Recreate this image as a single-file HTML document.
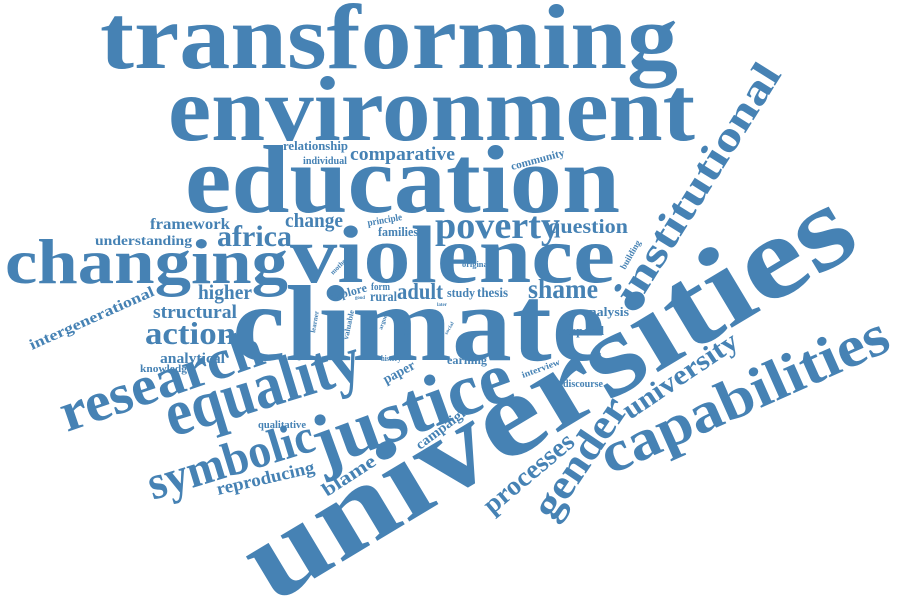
<!DOCTYPE html>
<html><head><meta charset="utf-8"><style>
html,body{margin:0;padding:0;background:#fff;width:900px;height:612px;overflow:hidden}
svg text{font-family:"Liberation Serif",serif;font-weight:bold;fill:#4682b4}
</style></head><body>
<svg width="900" height="612" viewBox="0 0 900 612">
<text x="100" y="68" font-size="92" textLength="578" lengthAdjust="spacingAndGlyphs">transforming</text>
<text x="168" y="140" font-size="92" textLength="527" lengthAdjust="spacingAndGlyphs">environment</text>
<text x="185" y="212" font-size="96" textLength="435" lengthAdjust="spacingAndGlyphs">education</text>
<text x="5" y="283" font-size="64" textLength="283" lengthAdjust="spacingAndGlyphs">changing</text>
<text x="290" y="282" font-size="82" textLength="325" lengthAdjust="spacingAndGlyphs">violence</text>
<text x="232" y="360" font-size="108" textLength="373" lengthAdjust="spacingAndGlyphs">climate</text>
<text transform="translate(272,604) rotate(-31)" font-size="118" textLength="690" lengthAdjust="spacingAndGlyphs">universities</text>
<text transform="translate(610,475) rotate(-24)" font-size="58" textLength="310" lengthAdjust="spacingAndGlyphs">capabilities</text>
<text transform="translate(322,468) rotate(-20)" font-size="74" textLength="208" lengthAdjust="spacingAndGlyphs">justice</text>
<text transform="translate(172,437) rotate(-17)" font-size="66" textLength="202" lengthAdjust="spacingAndGlyphs">equality</text>
<text transform="translate(67,432) rotate(-19)" font-size="56" textLength="212" lengthAdjust="spacingAndGlyphs">research</text>
<text transform="translate(153,500) rotate(-17)" font-size="48" textLength="172" lengthAdjust="spacingAndGlyphs">symbolic</text>
<text transform="translate(636,308) rotate(-58)" font-size="42" textLength="276" lengthAdjust="spacingAndGlyphs">institutional</text>
<text transform="translate(553,522) rotate(-56)" font-size="42" textLength="137" lengthAdjust="spacingAndGlyphs">gender</text>
<text transform="translate(630,420) rotate(-34)" font-size="28" textLength="133" lengthAdjust="spacingAndGlyphs">university</text>
<text transform="translate(492,515) rotate(-40)" font-size="27" textLength="110" lengthAdjust="spacingAndGlyphs">processes</text>
<text x="435" y="238" font-size="38" textLength="125" lengthAdjust="spacingAndGlyphs">poverty</text>
<text x="548" y="233" font-size="20" textLength="80" lengthAdjust="spacingAndGlyphs">question</text>
<text x="528" y="298" font-size="27" textLength="70" lengthAdjust="spacingAndGlyphs">shame</text>
<text x="217" y="246" font-size="30" textLength="75" lengthAdjust="spacingAndGlyphs">africa</text>
<text x="285" y="227" font-size="20" textLength="58" lengthAdjust="spacingAndGlyphs">change</text>
<text x="150" y="229" font-size="16" textLength="80" lengthAdjust="spacingAndGlyphs">framework</text>
<text x="95" y="245" font-size="14" textLength="97" lengthAdjust="spacingAndGlyphs">understanding</text>
<text x="198" y="299" font-size="21" textLength="54" lengthAdjust="spacingAndGlyphs">higher</text>
<text x="153" y="318" font-size="19" textLength="84" lengthAdjust="spacingAndGlyphs">structural</text>
<text x="145" y="344" font-size="32" textLength="91" lengthAdjust="spacingAndGlyphs">action</text>
<text x="160" y="363" font-size="15" textLength="65" lengthAdjust="spacingAndGlyphs">analytical</text>
<text x="140" y="372" font-size="11" textLength="52" lengthAdjust="spacingAndGlyphs">knowledge</text>
<text transform="translate(32,350) rotate(-24)" font-size="15" textLength="135" lengthAdjust="spacingAndGlyphs">intergenerational</text>
<text x="258" y="428" font-size="11" textLength="48" lengthAdjust="spacingAndGlyphs">qualitative</text>
<text transform="translate(218,495) rotate(-13)" font-size="18" textLength="100" lengthAdjust="spacingAndGlyphs">reproducing</text>
<text transform="translate(327,497) rotate(-33)" font-size="19" textLength="60" lengthAdjust="spacingAndGlyphs">blame</text>
<text transform="translate(420,450) rotate(-37)" font-size="14" textLength="62" lengthAdjust="spacingAndGlyphs">campaign</text>
<text x="283" y="150" font-size="13" textLength="65" lengthAdjust="spacingAndGlyphs">relationship</text>
<text x="303" y="164" font-size="11" textLength="44" lengthAdjust="spacingAndGlyphs">individual</text>
<text x="350" y="160" font-size="19" textLength="105" lengthAdjust="spacingAndGlyphs">comparative</text>
<text transform="translate(512,170) rotate(-15)" font-size="11" textLength="55" lengthAdjust="spacingAndGlyphs">community</text>
<text transform="translate(368,226) rotate(-10)" font-size="10" textLength="35" lengthAdjust="spacingAndGlyphs">principle</text>
<text x="378" y="236" font-size="13" textLength="40" lengthAdjust="spacingAndGlyphs">families</text>
<text x="462" y="267" font-size="8" textLength="28" lengthAdjust="spacingAndGlyphs">original</text>
<text transform="translate(333,275) rotate(-45)" font-size="7" textLength="22" lengthAdjust="spacingAndGlyphs">mother</text>
<text transform="translate(331,301) rotate(-15)" font-size="12" textLength="38" lengthAdjust="spacingAndGlyphs">explore</text>
<text x="371" y="290" font-size="10" textLength="19" lengthAdjust="spacingAndGlyphs">form</text>
<text x="355" y="299" font-size="5" textLength="10" lengthAdjust="spacingAndGlyphs">good</text>
<text x="370" y="301" font-size="14" textLength="27" lengthAdjust="spacingAndGlyphs">rural</text>
<text x="397" y="299" font-size="23" textLength="46" lengthAdjust="spacingAndGlyphs">adult</text>
<text x="447" y="297" font-size="13" textLength="28" lengthAdjust="spacingAndGlyphs">study</text>
<text x="477" y="297" font-size="14" textLength="31" lengthAdjust="spacingAndGlyphs">thesis</text>
<text x="582" y="316" font-size="13" textLength="47" lengthAdjust="spacingAndGlyphs">analysis</text>
<text x="560" y="335" font-size="13" textLength="44" lengthAdjust="spacingAndGlyphs">respond</text>
<text transform="translate(410,345) rotate(-90)" font-size="13" textLength="30" lengthAdjust="spacingAndGlyphs">natal</text>
<text transform="translate(348,340) rotate(-78)" font-size="8" textLength="30" lengthAdjust="spacingAndGlyphs">valuable</text>
<text transform="translate(315,333) rotate(-80)" font-size="7" textLength="22" lengthAdjust="spacingAndGlyphs">learner</text>
<text transform="translate(382,330) rotate(-70)" font-size="6" textLength="15" lengthAdjust="spacingAndGlyphs">argue</text>
<text transform="translate(447,335) rotate(-60)" font-size="5" textLength="14" lengthAdjust="spacingAndGlyphs">social</text>
<text x="437" y="306" font-size="5" textLength="10" lengthAdjust="spacingAndGlyphs">later</text>
<text x="381" y="361" font-size="8" textLength="20" lengthAdjust="spacingAndGlyphs">history</text>
<text transform="translate(386,384) rotate(-28)" font-size="14" textLength="34" lengthAdjust="spacingAndGlyphs">paper</text>
<text x="447" y="364" font-size="12" textLength="40" lengthAdjust="spacingAndGlyphs">earning</text>
<text transform="translate(523,378) rotate(-20)" font-size="9" textLength="40" lengthAdjust="spacingAndGlyphs">interview</text>
<text x="563" y="387" font-size="11" textLength="40" lengthAdjust="spacingAndGlyphs">discourse</text>
<text transform="translate(625,270) rotate(-60)" font-size="9" textLength="32" lengthAdjust="spacingAndGlyphs">building</text>
</svg>
</body></html>
